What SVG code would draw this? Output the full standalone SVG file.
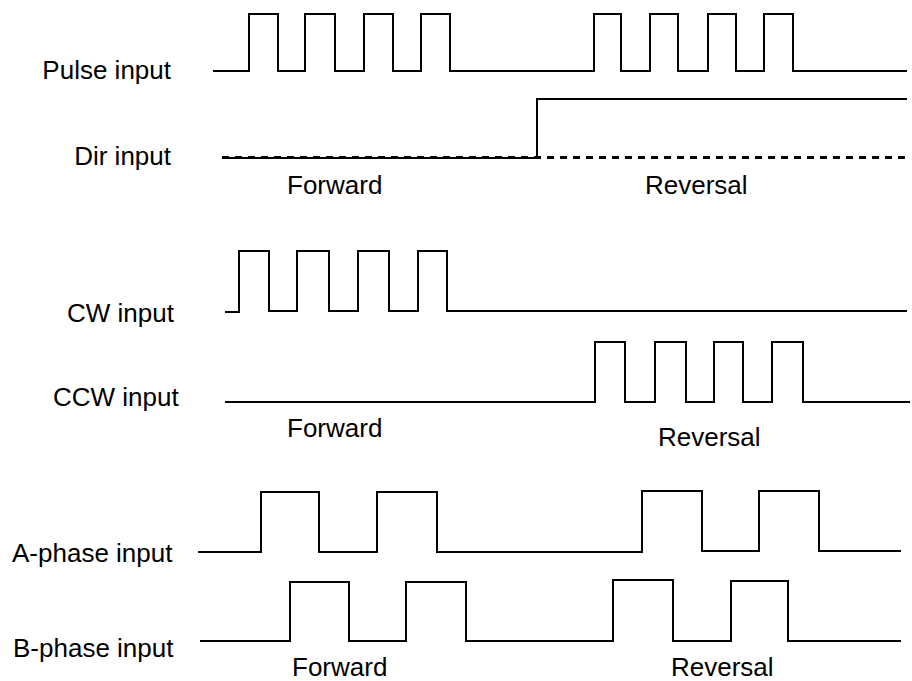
<svg xmlns="http://www.w3.org/2000/svg" width="912" height="681" viewBox="0 0 912 681">
<style>
  .lbl { font-family: "Liberation Sans", Arial, sans-serif; font-size: 26px; fill: #000; }
  .wave { fill: none; stroke: #000; stroke-width: 2; stroke-linejoin: miter; }
  .dash { fill: none; stroke: #000; stroke-width: 3; stroke-dasharray: 7 6; }
</style>
<rect width="912" height="681" fill="#fff"/>
<g id="pulse">
  <text class="lbl" x="171" y="79" text-anchor="end">Pulse input</text>
  <path class="wave" d="M213,71 H249 V14 H278 V71 H305 V14 H335 V71 H364 V14 H393 V71 H421 V14 H450 V71 H594 V14 H621 V71 H650 V14 H678 V71 H708 V14 H736 V71 H764 V14 H793 V71 H907"/>
</g>
<g id="dir">
  <text class="lbl" x="171" y="165" text-anchor="end">Dir input</text>
  <path class="wave" d="M222,158 H537 V99 H907"/>
  <path class="dash" d="M222,157.5 H907"/>
  <text class="lbl" x="287" y="194">Forward</text>
  <text class="lbl" x="645" y="194">Reversal</text>
</g>
<g id="cw">
  <text class="lbl" x="67" y="322">CW input</text>
  <path class="wave" d="M225,312 H239 V251 H269 V311 H297 V251 H329 V311 H358 V251 H389 V311 H418 V251 H447 V311 H907"/>
</g>
<g id="ccw">
  <text class="lbl" x="53" y="406">CCW input</text>
  <path class="wave" d="M225,402 H595 V342 H625 V402 H655 V342 H686 V402 H714 V342 H743 V402 H772 V342 H803 V402 H910"/>
  <text class="lbl" x="287" y="437">Forward</text>
  <text class="lbl" x="658" y="446">Reversal</text>
</g>
<g id="aphase">
  <text class="lbl" x="12" y="562">A-phase input</text>
  <path class="wave" d="M198,552 H261 V492 H319 V552 H377 V492 H437 V552 H642 V491 H702 V551 H759 V491 H819 V551 H901"/>
</g>
<g id="bphase">
  <text class="lbl" x="13" y="657">B-phase input</text>
  <path class="wave" d="M200,641 H290 V582 H349 V641 H406 V582 H466 V641 H613 V580 H673 V641 H731 V581 H788 V641 H901"/>
  <text class="lbl" x="292" y="676">Forward</text>
  <text class="lbl" x="671" y="676">Reversal</text>
</g>
<g id="connectors"></g>
</svg>
